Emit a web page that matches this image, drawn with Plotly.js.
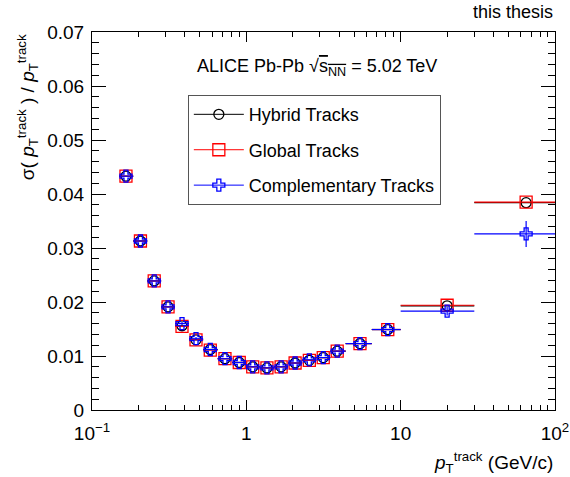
<!DOCTYPE html>
<html>
<head>
<meta charset="utf-8">
<script src="https://cdn.plot.ly/plotly-3.0.1.min.js"></script>
<style>html,body{margin:0;padding:0;background:#fff;}#chart{width:570px;height:477px;}</style>
</head>
<body>
<div id="chart"></div>
<script>
// pT bin edges (GeV/c) and bin centres
const ptEdges = [0.15, 0.185, 0.228, 0.2805, 0.345, 0.425, 0.525, 0.652, 0.809, 0.995, 1.223, 1.51, 1.865, 2.30, 2.84, 3.50, 4.4, 6.5, 10, 30, 100];
const ptCenters = [0.166, 0.206, 0.253, 0.311, 0.383, 0.472, 0.584, 0.727, 0.90, 1.10, 1.36, 1.68, 2.07, 2.56, 3.15, 3.88, 5.45, 8.25, 20, 65];

// sigma(pT)/pT
const hybrid = [0.0433, 0.0313, 0.0239, 0.0191, 0.0156, 0.0130, 0.0112, 0.0095, 0.0088, 0.0080, 0.0078, 0.0080, 0.0087, 0.0092, 0.0097, 0.0109, 0.0123, 0.0149, 0.0193, 0.0384];
const global = [0.0433, 0.0313, 0.0239, 0.0191, 0.0155, 0.0130, 0.0111, 0.0095, 0.0088, 0.0080, 0.0078, 0.0080, 0.0087, 0.0092, 0.0097, 0.0109, 0.0123, 0.0149, 0.0194, 0.0385];
const complementary = [0.0433, 0.0313, 0.0239, 0.0191, 0.0160, 0.0132, 0.0112, 0.0095, 0.0088, 0.0080, 0.0078, 0.0080, 0.0087, 0.0093, 0.0097, 0.0109, 0.0123, 0.0149, 0.0183, 0.0326];
const complementaryErr = [0, 0, 0, 0, 0.0003, 0.0003, 0, 0, 0, 0, 0, 0, 0, 0, 0, 0, 0, 0, 0.0008, 0.0024];

const xTickVals = [0.1, 1, 10, 100];
const xTickText = ['10<sup>\u22121</sup>', '1', '10', '10<sup>2</sup>'];
const xMinorVals = [0.2,0.3,0.4,0.5,0.6,0.7,0.8,0.9,2,3,4,5,6,7,8,9,20,30,40,50,60,70,80,90];
const yTickVals = [0, 0.01, 0.02, 0.03, 0.04, 0.05, 0.06, 0.07];
const yTickText = ['0', '0.01', '0.02', '0.03', '0.04', '0.05', '0.06', '0.07'];

const seriesNames = ['Hybrid Tracks', 'Global Tracks', 'Complementary Tracks'];

const errPlus = ptCenters.map((c, i) => ptEdges[i + 1] - c);
const errMinus = ptCenters.map((c, i) => c - ptEdges[i]);

const FONT = 'Liberation Sans, Arial, Helvetica, sans-serif';

function dataTrace(y, color, symbol, size, yerr) {
  const t = {
    x: ptCenters, y: y, type: 'scatter', mode: 'markers', showlegend: false,
    marker: {symbol: symbol, size: size, color: color, line: {color: color, width: 1.3}},
    error_x: {type: 'data', symmetric: false, array: errPlus, arrayminus: errMinus, color: color, thickness: 1.2, width: 0},
    hoverinfo: 'skip'
  };
  if (yerr) t.error_y = {type: 'data', array: yerr, color: color, thickness: 1.2, width: 0};
  return t;
}
function legendTrace(name, color, symbol, size, group) {
  return {
    x: [null], y: [null], type: 'scatter', mode: 'lines+markers', name: name, legendgroup: group,
    line: {color: color, width: 1},
    marker: {symbol: symbol, size: size, color: color, line: {color: color, width: 1.3}}
  };
}

const traces = [
  dataTrace(hybrid, '#000000', 'circle-open', 10, null),
  dataTrace(global, '#ff0000', 'square-open', 12, null),
  dataTrace(complementary, '#0000ff', 'cross-open', 10, complementaryErr),
  legendTrace(seriesNames[0], '#000000', 'circle-open', 10, 'a'),
  legendTrace(seriesNames[1], '#ff0000', 'square-open', 12, 'b'),
  legendTrace(seriesNames[2], '#0000ff', 'cross-open', 10, 'c')
];

const layout = {
  width: 570, height: 477,
  margin: {l: 92, r: 15, t: 32, b: 67},
  paper_bgcolor: '#ffffff', plot_bgcolor: '#ffffff',
  font: {family: FONT, color: '#000', size: 17},
  showlegend: true,
  legend: {
    x: 0.207, y: 0.833, xanchor: 'left', yanchor: 'top',
    bordercolor: '#555', borderwidth: 1, bgcolor: '#ffffff',
    font: {family: FONT, size: 18, color: '#000'},
    tracegroupgap: 9, itemwidth: 50
  },
  xaxis: {
    type: 'log', range: [-1, 2],
    tickmode: 'array', tickvals: xTickVals, ticktext: xTickText,
    ticks: 'inside', ticklen: 10, tickwidth: 1, tickcolor: '#000',
    showline: true, linecolor: '#000', linewidth: 1, mirror: 'ticks',
    showgrid: false, zeroline: false,
    tickfont: {family: FONT, size: 19, color: '#000'},
    ticklabelstandoff: 6,
    minor: {tickmode: 'array', tickvals: xMinorVals, ticks: 'inside', ticklen: 5, tickcolor: '#000', tickwidth: 1, showgrid: false}
  },
  yaxis: {
    range: [0, 0.07],
    tickmode: 'array', tickvals: yTickVals, ticktext: yTickText,
    ticks: 'inside', ticklen: 14, tickwidth: 1, tickcolor: '#000',
    showline: true, linecolor: '#000', linewidth: 1, mirror: 'ticks',
    showgrid: false, zeroline: false,
    tickfont: {family: FONT, size: 19, color: '#000'},
    ticklabelstandoff: 3,
    minor: {dtick: 0.002, ticks: 'inside', ticklen: 7, tickcolor: '#000', tickwidth: 1, showgrid: false}
  },
  annotations: [
    {text: 'this thesis', xref: 'paper', yref: 'paper', x: 1, y: 1.053, xanchor: 'right', yanchor: 'middle', showarrow: false, font: {family: FONT, size: 18}},
    {text: 'ALICE Pb-Pb \u221A<span style="text-decoration:overline">s<sub>NN</sub></span> = 5.02 TeV', xref: 'paper', yref: 'paper', x: 0.485, y: 0.907, xanchor: 'center', yanchor: 'middle', showarrow: false, font: {family: FONT, size: 18}},
    {text: '<i>p</i><sub>T</sub><sup>track</sup> (GeV/c)', xref: 'paper', yref: 'paper', x: 1, y: -0.1376, xanchor: 'right', yanchor: 'middle', showarrow: false, font: {family: FONT, size: 19}},
    {text: '\u03C3( <i>p</i><sub>T</sub><sup>track</sup> ) / <i>p</i><sub>T</sub><sup>track</sup>', xref: 'paper', yref: 'paper', x: -0.14, y: 1.0, xanchor: 'center', yanchor: 'top', textangle: -90, showarrow: false, font: {family: FONT, size: 19}}
  ]
};

Plotly.newPlot('chart', traces, layout, {staticPlot: true, displayModeBar: false});
</script>
</body>
</html>
